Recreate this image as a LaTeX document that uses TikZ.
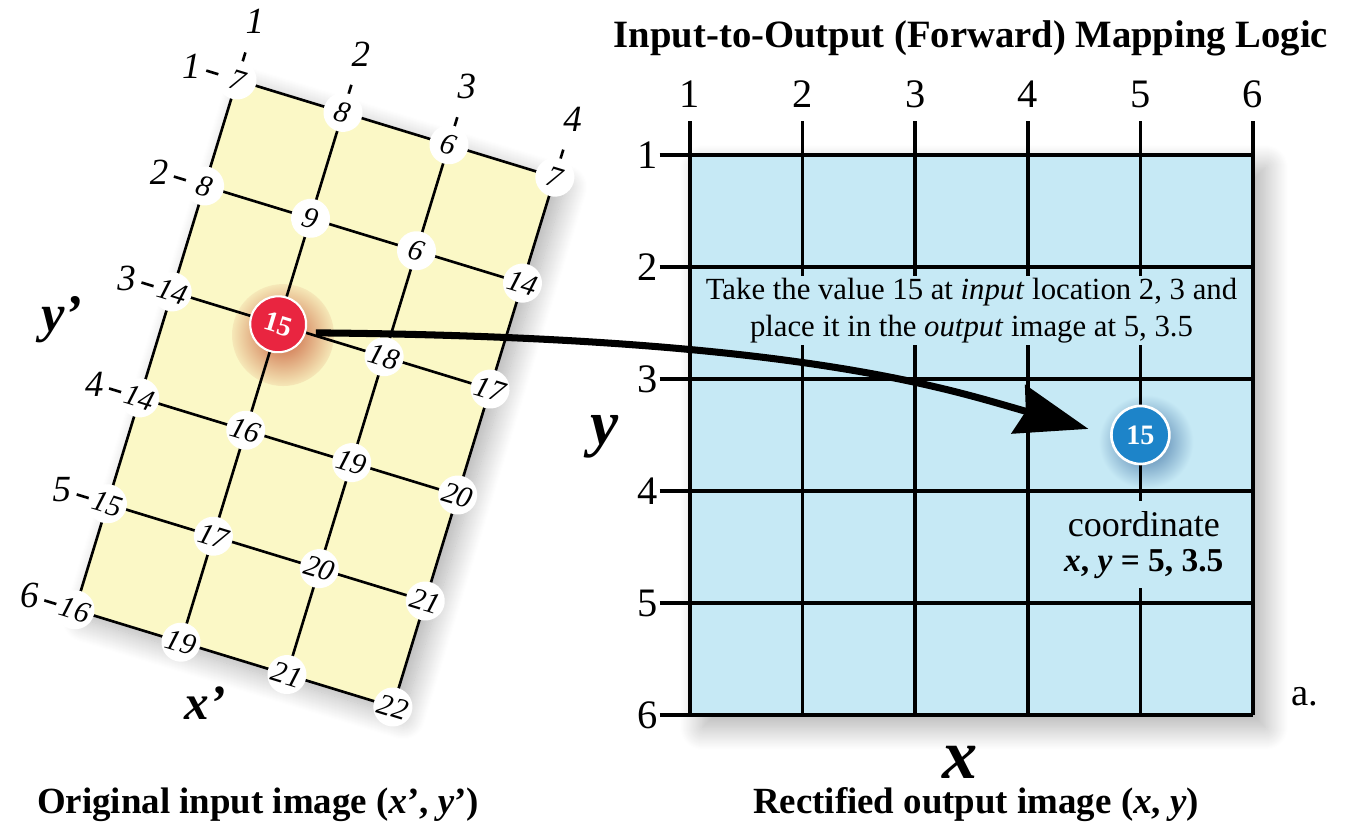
\documentclass[tikz,border=0pt]{standalone}
\usepackage{fontspec}
\setmainfont{Liberation Serif}
\usepackage{xcolor}
\usepackage{tikz}
\usetikzlibrary{arrows.meta,calc,shadows.blur}
\definecolor{YellowInput}{RGB}{251,248,198}
\definecolor{BlueOutput}{RGB}{198,233,245}
\definecolor{RedPixel}{RGB}{233,37,64}
\definecolor{BluePixel}{RGB}{29,132,201}
\definecolor{RedGlow}{RGB}{200,95,60}
\definecolor{BlueGlow}{RGB}{60,110,160}
\newcommand{\fsz}[1]{\fontsize{#1}{#1}\selectfont}
\tikzset{
  gridline/.style={line width=2.1pt},
  ingrid/.style={line width=1.5pt},
  value/.style={circle,fill=white,inner sep=0pt,minimum size=0.78cm,font=\fsz{17}\itshape,transform shape},
  inlabel/.style={font=\fsz{21}\itshape},
  outlabel/.style={font=\fsz{23}},
  caption/.style={font=\fsz{21}\bfseries},
  softshadow/.style={blur shadow={shadow xshift=#1,shadow yshift=-#1,shadow blur radius=0.45cm,
    shadow blur steps=24,shadow opacity=32}},
}

\begin{document}
\begin{tikzpicture}
  \useasboundingbox (0,0) rectangle (26.92,16.64);
  % original input image, tilted
  \begin{scope}[shift={(4.74,15.04)},rotate=-17,x=2.216cm,y=-2.216cm]
    \foreach \r in {1,...,6}
      \foreach \c in {1,...,4}
        \coordinate (p-\r-\c) at (\c-1,\r-1);
    \fill[YellowInput,softshadow=0.2cm] (p-1-1) -- (p-1-4) -- (p-6-4) -- (p-6-1) -- cycle;
    \shade[inner color=RedGlow,outer color=YellowInput] (1.07,2.08) circle (0.46);
    \foreach \r in {1,...,6} {
      \draw[ingrid] (p-\r-1) -- (p-\r-4);
      \draw[ingrid] (-0.29,\r-1) -- (-0.17,\r-1);
      \node[inlabel] (row-\r) at (-0.43,\r-1) {\r};
    }
    \foreach \c in {1,...,4} {
      \draw[ingrid] (p-1-\c) -- (p-6-\c);
      \draw[ingrid] (\c-1,-0.26) -- (\c-1,-0.17);
      \node[inlabel] (col-\c) at (\c-1,-0.55) {\c};
    }
    \foreach \vals [count=\r] in {{7,8,6,7},{8,9,6,14},{14,15,18,17},{14,16,19,20},{15,17,20,21},{16,19,21,22}}
      \foreach \v [count=\c] in \vals {
        \ifnum\r\c=32 \else \node[value] (v-\r-\c) at (p-\r-\c) {\v}; \fi
      }
    \node[circle,fill=RedPixel,draw=white,line width=1.2pt,minimum size=1.12cm,inner sep=0pt,
      text=white,font=\fsz{16}\bfseries,transform shape] (red) at (p-3-2) {15};
  \end{scope}
  % rectified output image
  \begin{scope}[shift={(13.8,13.54)},x=2.252cm,y=-2.24cm]
    \fill[BlueOutput,softshadow=0.25cm] (0,0) rectangle (5,5);
    \shade[inner color=BlueGlow,outer color=BlueOutput] (4.05,2.56) circle (0.42);
    \foreach \i in {1,...,6} {
      \coordinate (top-\i) at (\i-1,-0.3);
      \coordinate (bot-\i) at (\i-1,5);
      \coordinate (lft-\i) at (-0.27,\i-1);
      \coordinate (rgt-\i) at (5,\i-1);
      \draw[gridline] (top-\i) -- (bot-\i);
      \draw[gridline] (lft-\i) -- (rgt-\i);
      \node[outlabel] (xnum-\i) at (\i-1,-0.54) {\i};
      \node[outlabel] (ynum-\i) at (-0.373,\i-1) {\i};
    }
    \node[fill=BlueOutput,inner xsep=2pt,inner ysep=1pt,align=center,font=\fontsize{17.5}{21}\selectfont] (note) at (2.5,1.39)
      {Take the value 15 at \textit{input} location 2, 3 and\\ place it in the \textit{output} image at 5, 3.5};
    \node[fill=BlueOutput,inner sep=0.2cm,align=center,font=\fontsize{20.5}{20}\selectfont] (coord) at (4.03,3.48)
      {coordinate\\ \fsz{19}\bfseries\textit{x}, \textit{y} = 5, 3.5};
    \node[circle,fill=BluePixel,draw=white,line width=1.5pt,minimum size=1.16cm,inner sep=0pt,text=white,font=\fsz{16}\bfseries]
      (blue) at (4,2.5) {15};
  \end{scope}
  \draw[line width=4pt,-{Stealth[length=1.45cm,width=1cm,inset=0.15cm]},shorten <=0.2cm,shorten >=0.45cm]
    (red.east) .. controls (16,9.9) and (19,8.84) .. (blue.west);
  \node[font=\fsz{30}\bfseries\itshape] (yprime) at (1.24,10.24) {y'};
  \node[font=\fsz{28}\bfseries\itshape] (xprime) at (4.1,2.58) {x'};
  \node[font=\fsz{36}\bfseries\itshape] (ylab) at (12.1,7.9) {y};
  \node[font=\fsz{40}\bfseries\itshape] (xlab) at (19.2,1.4) {x};
  \node[font=\fsz{22}] (tag) at (26.1,2.7) {a.};
  \node[font=\fsz{22}\bfseries] (title) at (19.42,15.88) {Input-to-Output (Forward) Mapping Logic};
  \node[caption] (incap) at (5.16,0.54) {Original input image (\textit{x}', \textit{y}')};
  \node[caption] (outcap) at (19.52,0.54) {Rectified output image (\textit{x}, \textit{y})};
\end{tikzpicture}
\end{document}
